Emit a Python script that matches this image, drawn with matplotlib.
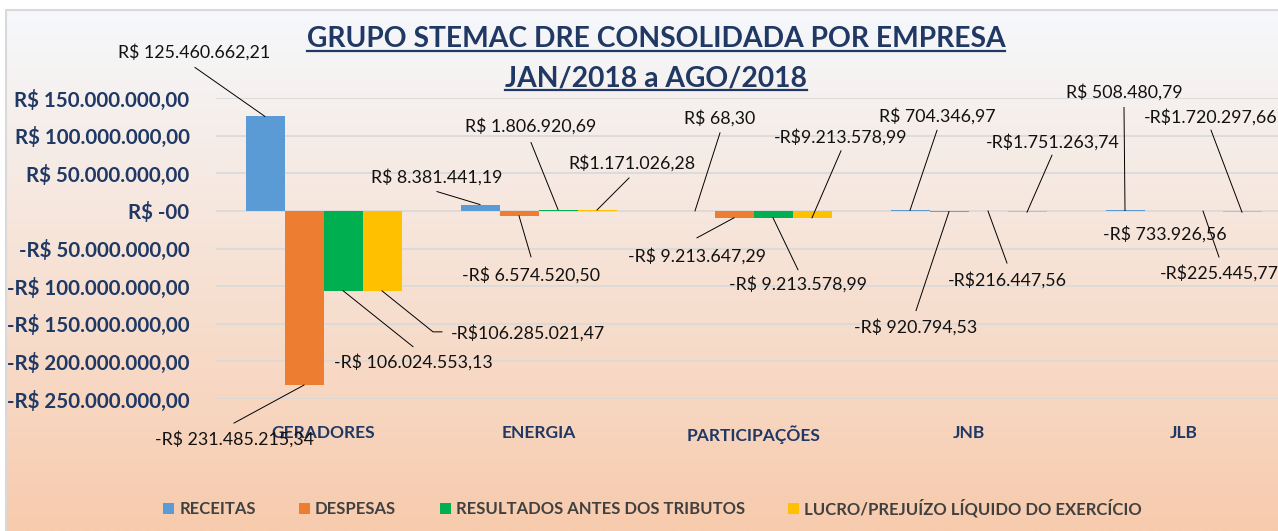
import numpy as np
import matplotlib.pyplot as plt
from matplotlib.patches import Patch
from matplotlib.lines import Line2D
from matplotlib.colors import LinearSegmentedColormap

plt.rcParams['font.family'] = ['Lato', 'DejaVu Sans']

## Dados
empresas = ['GERADORES', 'ENERGIA', 'PARTICIPAÇÕES', 'JNB', 'JLB']
series = ['RECEITAS', 'DESPESAS', 'RESULTADOS ANTES DOS TRIBUTOS',
          'LUCRO/PREJUÍZO LÍQUIDO DO EXERCÍCIO']

receitas = [125460662.21, 8381441.19, 68.30, 704346.97, 508480.79]
despesas = [-231485215.34, -6574520.50, -9213647.29, -920794.53, -733926.56]
resultados = [-106024553.13, 1806920.69, -9213578.99, -216447.56, -225445.77]
lucro = [-106285021.47, 1171026.28, -9213578.99, -1751263.74, -1720297.66]

rot_receitas = ['R$ 125.460.662,21', 'R$ 8.381.441,19', 'R$ 68,30',
                'R$ 704.346,97', 'R$ 508.480,79']
rot_despesas = ['-R$ 231.485.215,34', '-R$ 6.574.520,50', '-R$ 9.213.647,29',
                '-R$ 920.794,53', '-R$ 733.926,56']
rot_resultados = ['-R$ 106.024.553,13', 'R$ 1.806.920,69', '-R$ 9.213.578,99',
                  '-R$216.447,56', '-R$225.445,77']
rot_lucro = ['-R$106.285.021,47', 'R$1.171.026,28', '-R$9.213.578,99',
             '-R$1.751.263,74', '-R$1.720.297,66']

cores = ['#5B9BD5', '#ED7D31', '#00B050', '#FFC000']
azul = '#1F3864'

# posicao dos rotulos (pixels, relativo ao fim da barra, y para baixo)
# (texto dx, texto dy, [pontos da linha guia])
pos_rot = [
    [(-71, -64, [(-70, -49)]), (-43, -27, [(-43, -13)]), (25, -93, [(25, -78)]),
     (27, -94, [(27, -80)]), (-1, -118, [(-1, -103)])],
    [(-70, 54, [(-70, 38)]), (12, 59, [(12, 41)]), (-37, 38, [(-37, 20)]),
     (-33, 116, [(-33, 99)]), (1, 23, [])],
    [(70, 72, [(70, 56)]), (-27, -83, [(-27, -67)]), (25, 66, [(25, 52)]),
     (19, 69, [(19, 52)]), (16, 62, [(16, 46)])],
    [(146, 42, [(51, 41), (60, 41)]), (35, -47, [(32, -32)]), (29, -81, [(29, -67)]),
     (26, -70, [(25, -57)]), (-31, -95, [(-31, -82)])],
]

W, H = 1278, 531
fig = plt.figure(figsize=(W / 100, H / 100), dpi=100)

# fundo em degrade
ax_bg = fig.add_axes([6 / W, 0, 1 - 6 / W, 1 - 10 / H], zorder=-2)
cmap = LinearSegmentedColormap.from_list('fundo', ['#F5F8FC', '#F8CBAD'])
ax_bg.imshow(np.linspace(0, 1, 256).reshape(-1, 1), cmap=cmap, aspect='auto',
             extent=(0, 1, 0, 1))
ax_bg.axis('off')
fig.add_artist(Line2D([6 / W, 6 / W, 1], [0, 1 - 10 / H, 1 - 10 / H],
                      transform=fig.transFigure, color='#D9D9D9', lw=1.5))

# eixo principal
x0, x1 = 216, 1291
ytop, ybot = 98, 399
ax = fig.add_axes([x0 / W, 1 - ybot / H, (x1 - x0) / W, (ybot - ytop) / H])
ax.set_facecolor('none')
ax.set_xlim(-0.5, 4.5)
ax.set_ylim(-250e6, 150e6)
ppx = (x1 - x0) / 5.0
ppy = (ybot - ytop) / 400e6

w = 39 / ppx
x = np.arange(len(empresas))
valores = [receitas, despesas, resultados, lucro]
rotulos = [rot_receitas, rot_despesas, rot_resultados, rot_lucro]

for k, (vals, cor) in enumerate(zip(valores, cores)):
    xb = x + (k - 1.5) * w
    ax.bar(xb, vals, width=w, color=cor, zorder=3)
    for i in range(len(empresas)):
        v = vals[i]
        tdx, tdy, pts = pos_rot[k][i]
        ax.text(xb[i] + tdx / ppx, v - tdy / ppy, rotulos[k][i], ha='center',
                va='center', fontsize=12.8, color='#111111', zorder=5, clip_on=False)
        if pts:
            lx = [xb[i]] + [xb[i] + p[0] / ppx for p in pts]
            ly = [v] + [v - p[1] / ppy for p in pts]
            ax.plot(lx, ly, color='black', lw=0.7, zorder=4, clip_on=False)

def moeda(v, pos=None):
    if v == 0:
        return 'R$ -00'
    s = f'{abs(v):,.2f}'.replace(',', 'X').replace('.', ',').replace('X', '.')
    return ('-R$ ' if v < 0 else 'R$ ') + s

ax.set_yticks(np.arange(-250e6, 150e6 + 1, 50e6))
ax.yaxis.set_major_formatter(plt.FuncFormatter(moeda))
ax.tick_params(axis='y', length=0, pad=19, labelsize=14.8, labelcolor=azul)
for lab in ax.get_yticklabels():
    lab.set_fontweight('bold')
ax.set_xticks(x)
ax.set_xticklabels(empresas, fontsize=12.5, fontweight='bold', color=azul)
ax.tick_params(axis='x', length=0, pad=19)
ax.grid(axis='y', color='#D9D9D9', lw=1.2, zorder=0)
for s in ax.spines.values():
    s.set_visible(False)

# titulo sublinhado
t1 = fig.text(656 / W, 1 - 46.7 / H, 'GRUPO STEMAC DRE CONSOLIDADA POR EMPRESA',
              ha='center', va='baseline', fontsize=20.3, fontweight='bold', color=azul)
t2 = fig.text(656 / W, 1 - 86 / H, 'JAN/2018 a AGO/2018',
              ha='center', va='baseline', fontsize=20.3, fontweight='bold', color=azul)
fig.canvas.draw()
r = fig.canvas.get_renderer()
for t, yu in [(t1, 50.7), (t2, 90)]:
    bb = t.get_window_extent(r)
    fig.add_artist(Line2D([bb.x0 / W, bb.x1 / W], [1 - yu / H, 1 - yu / H],
                          transform=fig.transFigure, color=azul, lw=1.6))

# legenda
handles = [Patch(facecolor=c) for c in cores]
fig.legend(handles, series, loc='center', bbox_to_anchor=(652.5 / W, 1 - 508 / H),
           ncol=4, frameon=False, prop={'size': 12, 'weight': 'bold'},
           labelcolor='#404040', handlelength=0.66, handleheight=0.66,
           handletextpad=0.3, columnspacing=2.6)

fig.savefig('out.png', dpi=100)
